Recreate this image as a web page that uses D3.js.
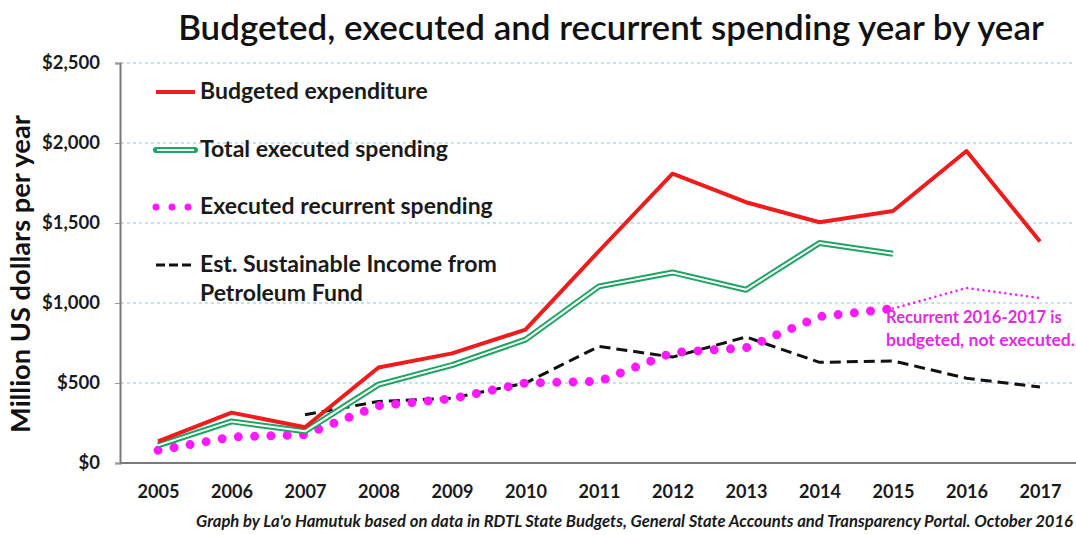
<!DOCTYPE html>
<html>
<head>
<meta charset="utf-8">
<script src="https://cdn.jsdelivr.net/npm/d3@7"></script>
<style>
  html, body { margin: 0; padding: 0; background: #fff; }
  svg { display: block; }
  text { font-family: Lato, "Open Sans", "DejaVu Sans", sans-serif; }
</style>
</head>
<body>
<svg id="chart" width="1076" height="535"></svg>
<script>
// ---------- data ----------
const years = [2005, 2006, 2007, 2008, 2009, 2010, 2011, 2012, 2013, 2014, 2015, 2016, 2017];
const budgeted = [135, 315, 223, 597, 685, 833, 1325, 1808, 1630, 1505, 1575, 1950, 1385];
const totalExecuted = [110, 260, 198, 490, 612, 771, 1104, 1191, 1083, 1375, 1308, null, null];
const recurrentExecuted = [79, 162, 177, 358, 402, 500, 510, 690, 720, 915, 965, null, null];
const recurrentBudgeted = [null, null, null, null, null, null, null, null, null, null, 965, 1094, 1031];
const sustainableIncome = [null, null, 302, 385, 405, 500, 729, 662, 788, 629, 638, 530, 475];
const yTicks = [0, 500, 1000, 1500, 2000, 2500];
const legendLabels = ["Budgeted expenditure", "Total executed spending", "Executed recurrent spending",
                      ["Est. Sustainable Income from", "Petroleum Fund"]];
const titleText = "Budgeted, executed and recurrent spending year by year";
const yTitle = "Million US dollars per year";
const noteLines = ["Recurrent 2016-2017 is", "budgeted, not executed."];
const footer = "Graph by La'o Hamutuk based on data in RDTL State Budgets, General State Accounts and Transparency Portal. October 2016";

// ---------- setup ----------
const svg = d3.select("#chart");
const plot = { left: 120, right: 1072, top: 63, bottom: 463 };
const x = d3.scalePoint().domain(years).range([158, 1040]);
const y = d3.scaleLinear().domain([0, 2500]).range([plot.bottom, plot.top]);

const RED = "#ee1c1c", GREEN = "#1fa463", MAG = "#ff19ff", NOTE = "#e02ce0";

function fitWidth(sel, target) {
  const node = sel.node();
  const w = node.getComputedTextLength();
  const fs = parseFloat(sel.style("font-size"));
  sel.style("font-size", (fs * target / w) + "px");
}

// title
const t = svg.append("text").attr("x", 611).attr("y", 40).attr("text-anchor", "middle")
  .style("font-size", "30px").style("font-weight", "600").attr("fill", "#111").text(titleText);
fitWidth(t, 866);

// gridlines
svg.append("g").selectAll("line").data(yTicks.filter(d => d > 0)).join("line")
  .attr("x1", plot.left + 1).attr("x2", plot.right)
  .attr("y1", d => y(d)).attr("y2", d => y(d))
  .attr("stroke", "#8cc3d6").attr("stroke-width", 1.2).attr("stroke-dasharray", "3,3");

// y axis
const yAxis = svg.append("g").attr("transform", `translate(${plot.left},0)`)
  .call(d3.axisLeft(y).tickValues(yTicks).tickSize(5).tickPadding(15)
    .tickFormat(d => "$" + d3.format(",")(d)));
yAxis.select(".domain").attr("stroke", "#7a7a7a").attr("stroke-width", 2);
yAxis.selectAll(".tick line").attr("stroke", "#999").attr("stroke-width", 1);
const yLabs = yAxis.selectAll(".tick text").style("font-size", "17px").style("font-weight", "700").attr("fill", "#1a1a1a");
{
  const top = yLabs.filter(d => d === 2500);
  const w = top.node().getComputedTextLength();
  yLabs.style("font-size", (17 * 58 / w) + "px");
}

// x axis
const xAxis = svg.append("g").attr("transform", `translate(0,${plot.bottom})`)
  .call(d3.axisBottom(x).tickSize(0).tickPadding(22));
xAxis.select(".domain").remove();
const xLabs = xAxis.selectAll(".tick text").style("font-size", "18px").style("font-weight", "700").attr("fill", "#1a1a1a");
{
  const w = xLabs.node().getComputedTextLength();
  xLabs.style("font-size", (18 * 42 / w) + "px");
}
svg.append("line").attr("x1", plot.left).attr("x2", 1076).attr("y1", plot.bottom).attr("y2", plot.bottom)
  .attr("stroke", "#7a7a7a").attr("stroke-width", 2);

// y title
const yt = svg.append("text").attr("transform", "translate(30,274) rotate(-90)").attr("text-anchor", "middle")
  .style("font-size", "22px").style("font-weight", "700").attr("fill", "#111").text(yTitle);
fitWidth(yt, 318);

// ---------- series ----------
const pts = arr => years.map((yr, i) => ({ yr, v: arr[i] }));
const line = d3.line().defined(d => d.v != null).x(d => x(d.yr)).y(d => y(d.v));

// sustainable income (dashed black)
svg.append("path").attr("d", line(pts(sustainableIncome))).attr("fill", "none")
  .attr("stroke", "#111").attr("stroke-width", 3).attr("stroke-dasharray", "11,6");

// recurrent budgeted (thin dotted)
svg.append("path").attr("d", line(pts(recurrentBudgeted))).attr("fill", "none")
  .attr("stroke", MAG).attr("stroke-width", 2.6).attr("stroke-linecap", "round").attr("stroke-dasharray", "0,5.5");

// recurrent executed (big dots)
svg.append("path").attr("d", line(pts(recurrentExecuted))).attr("fill", "none")
  .attr("stroke", MAG).attr("stroke-width", 9).attr("stroke-linecap", "round").attr("stroke-dasharray", "0,16.3");

// total executed (double green)
const gPath = line(pts(totalExecuted));
svg.append("path").attr("d", gPath).attr("fill", "none").attr("stroke", GREEN).attr("stroke-width", 6)
  .attr("stroke-linejoin", "round");
svg.append("path").attr("d", gPath).attr("fill", "none").attr("stroke", "#fff").attr("stroke-width", 2)
  .attr("stroke-linejoin", "round");

// budgeted (red)
svg.append("path").attr("d", line(pts(budgeted))).attr("fill", "none")
  .attr("stroke", RED).attr("stroke-width", 4).attr("stroke-linejoin", "round");

// ---------- legend ----------
const lg = svg.append("g");
const lx0 = 156, lx1 = 195, tx = 200;
const rowY = [92, 150, 207, 265];
lg.append("line").attr("x1", lx0).attr("x2", lx1).attr("y1", rowY[0]).attr("y2", rowY[0])
  .attr("stroke", RED).attr("stroke-width", 4);
lg.append("line").attr("x1", lx0).attr("x2", lx1).attr("y1", rowY[1]).attr("y2", rowY[1])
  .attr("stroke", GREEN).attr("stroke-width", 6).attr("stroke-linecap", "round");
lg.append("line").attr("x1", lx0 + 1).attr("x2", lx1 - 1).attr("y1", rowY[1]).attr("y2", rowY[1])
  .attr("stroke", "#fff").attr("stroke-width", 2);
lg.append("line").attr("x1", lx0).attr("x2", lx1).attr("y1", rowY[2]).attr("y2", rowY[2])
  .attr("stroke", MAG).attr("stroke-width", 7).attr("stroke-linecap", "round").attr("stroke-dasharray", "0,16");
lg.append("line").attr("x1", lx0).attr("x2", lx1 - 2).attr("y1", rowY[3]).attr("y2", rowY[3])
  .attr("stroke", "#111").attr("stroke-width", 3).attr("stroke-dasharray", "9,4");

const legendWidths = [228, 248, 293, [297, 163]];
legendLabels.forEach((lab, i) => {
  const labs = Array.isArray(lab) ? lab : [lab];
  const ws = Array.isArray(lab) ? legendWidths[i] : [legendWidths[i]];
  labs.forEach((s, j) => {
    const tt = lg.append("text").attr("x", tx).attr("y", rowY[i] + 7 + j * 29)
      .style("font-size", "20px").style("font-weight", "700").attr("fill", "#1a1a1a").text(s);
    fitWidth(tt, ws[j]);
  });
});

// ---------- annotation ----------
const noteW = [176, 189];
noteLines.forEach((s, i) => {
  const tt = svg.append("text").attr("x", 886).attr("y", 323 + i * 22.5)
    .style("font-size", "16px").style("font-weight", "700").attr("fill", NOTE).text(s);
  fitWidth(tt, noteW[i]);
});

// ---------- footer ----------
const ft = svg.append("text").attr("x", 1073).attr("y", 527).attr("text-anchor", "end")
  .style("font-size", "13px").style("font-weight", "700").style("font-style", "italic")
  .attr("fill", "#1a1a1a").text(footer);
fitWidth(ft, 878);
</script>
</body>
</html>
